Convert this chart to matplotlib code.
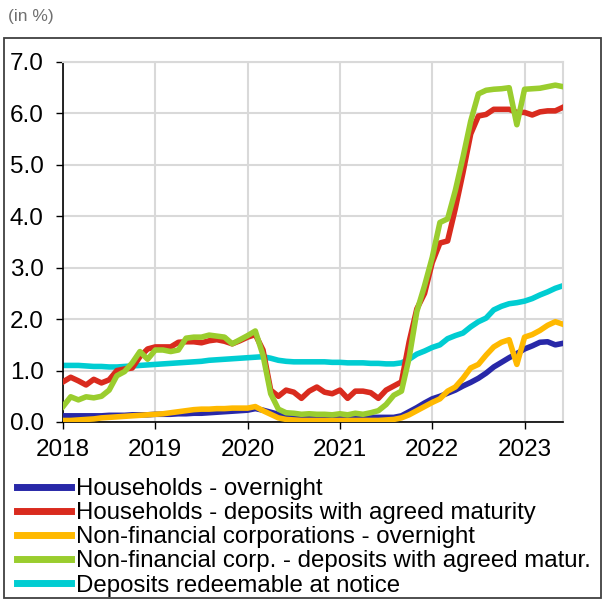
import matplotlib
matplotlib.use("Agg")
import matplotlib.pyplot as plt
from matplotlib.patches import Rectangle
import numpy as np

plt.rcParams['font.family'] = ['Liberation Sans', 'DejaVu Sans']

# monthly observations, Jan 2018 - Jun 2023
hh_overnight = [0.12, 0.12, 0.12, 0.12, 0.12, 0.12, 0.13, 0.13, 0.13, 0.14, 0.14, 0.14,
                0.15, 0.15, 0.15, 0.16, 0.16, 0.17, 0.17, 0.18, 0.19, 0.20, 0.21, 0.22,
                0.23, 0.26, 0.23, 0.19, 0.15, 0.12, 0.10, 0.09, 0.09, 0.09, 0.09, 0.09,
                0.09, 0.09, 0.09, 0.09, 0.09, 0.09, 0.09, 0.09, 0.12, 0.20, 0.28, 0.37,
                0.45, 0.50, 0.56, 0.62, 0.70, 0.77, 0.85, 0.95, 1.07, 1.16, 1.25, 1.33,
                1.42, 1.48, 1.55, 1.56, 1.50, 1.53]
hh_agreed = [0.78, 0.87, 0.80, 0.72, 0.83, 0.76, 0.82, 1.00, 1.03, 1.05, 1.27, 1.42,
             1.46, 1.46, 1.46, 1.55, 1.56, 1.56, 1.54, 1.58, 1.60, 1.57, 1.52, 1.58,
             1.65, 1.70, 1.40, 0.62, 0.50, 0.62, 0.58, 0.46, 0.60, 0.68, 0.58, 0.55,
             0.62, 0.46, 0.60, 0.60, 0.57, 0.46, 0.62, 0.70, 0.78, 1.56, 2.20, 2.50,
             3.10, 3.48, 3.52, 4.15, 4.85, 5.60, 5.95, 5.98, 6.08, 6.08, 6.08, 6.02,
             6.02, 5.97, 6.03, 6.05, 6.05, 6.12]
nfc_overnight = [0.03, 0.03, 0.04, 0.05, 0.06, 0.08, 0.09, 0.10, 0.11, 0.12, 0.13, 0.14,
                 0.15, 0.16, 0.18, 0.20, 0.22, 0.24, 0.25, 0.25, 0.26, 0.26, 0.27, 0.27,
                 0.27, 0.30, 0.22, 0.15, 0.08, 0.05, 0.04, 0.03, 0.03, 0.03, 0.03, 0.03,
                 0.03, 0.03, 0.03, 0.03, 0.03, 0.03, 0.04, 0.05, 0.08, 0.14, 0.22, 0.30,
                 0.38, 0.45, 0.60, 0.68, 0.85, 1.05, 1.12, 1.30, 1.46, 1.55, 1.60, 1.12,
                 1.65, 1.70, 1.78, 1.88, 1.95, 1.90]
nfc_agreed = [0.30, 0.49, 0.43, 0.49, 0.47, 0.50, 0.62, 0.90, 0.98, 1.15, 1.37, 1.22,
              1.40, 1.40, 1.37, 1.40, 1.63, 1.65, 1.65, 1.69, 1.67, 1.65, 1.52, 1.60,
              1.68, 1.77, 1.30, 0.55, 0.25, 0.18, 0.17, 0.15, 0.16, 0.15, 0.15, 0.14,
              0.16, 0.14, 0.17, 0.15, 0.18, 0.22, 0.34, 0.52, 0.60, 1.25, 2.15, 2.65,
              3.20, 3.88, 3.95, 4.50, 5.15, 5.85, 6.38, 6.45, 6.47, 6.48, 6.50, 5.78,
              6.47, 6.48, 6.49, 6.52, 6.55, 6.52]
notice = [1.10, 1.10, 1.10, 1.09, 1.08, 1.08, 1.07, 1.07, 1.08, 1.09, 1.10, 1.11,
          1.12, 1.13, 1.14, 1.15, 1.16, 1.17, 1.18, 1.20, 1.21, 1.22, 1.23, 1.24,
          1.25, 1.26, 1.27, 1.24, 1.20, 1.18, 1.17, 1.17, 1.17, 1.17, 1.17, 1.16,
          1.16, 1.15, 1.15, 1.15, 1.14, 1.14, 1.13, 1.13, 1.15, 1.22, 1.32, 1.38,
          1.45, 1.50, 1.62, 1.68, 1.73, 1.85, 1.95, 2.02, 2.18, 2.25, 2.30, 2.32,
          2.35, 2.40, 2.47, 2.53, 2.60, 2.65]

labels = ["Households - overnight",
          "Households - deposits with agreed maturity",
          "Non-financial corporations - overnight",
          "Non-financial corp. - deposits with agreed matur.",
          "Deposits redeemable at notice"]
colors = ["#2828a8", "#d92b1e", "#ffb900", "#9acd2e", "#00cdd2"]
zorders = [3, 4, 5, 6, 2]
years = [2018, 2019, 2020, 2021, 2022, 2023]

x = 2018 + np.arange(len(notice)) / 12.0

fig = plt.figure(figsize=(6.03, 6.01), dpi=100)
ax = fig.add_axes([63/603, 179/601, 500/603, 360/601])

series = [hh_overnight, hh_agreed, nfc_overnight, nfc_agreed, notice]
for s, lab, c, z in zip(series, labels, colors, zorders):
    ax.plot(x, s, color=c, lw=4, label=lab, zorder=z, solid_joinstyle='round')

ax.set_xlim(2018, x[-1])
ax.set_ylim(0, 7)
ax.set_yticks(np.arange(0, 7.5, 1.0))
ax.set_yticklabels(["%.1f" % v for v in np.arange(0, 7.5, 1.0)])
ax.set_xticks(years)
ax.set_xticklabels([str(y) for y in years])
ax.tick_params(labelsize=17.5, length=5, width=1, colors='black')
ax.tick_params(axis='y', pad=9)
ax.tick_params(axis='x', pad=7)
ax.grid(True, color='#d9d9d9', lw=1.5, zorder=0)
ax.set_axisbelow(True)
for side in ['top', 'right']:
    ax.spines[side].set_color('#d9d9d9')
    ax.spines[side].set_linewidth(1.5)
for side in ['left', 'bottom']:
    ax.spines[side].set_color('black')
    ax.spines[side].set_linewidth(1.2)

leg = fig.legend(loc='upper left', bbox_to_anchor=(17/603, 1 - 478/601),
                 frameon=False, fontsize=17.3, handlelength=2.25,
                 handletextpad=0.22, labelspacing=0.09, borderpad=0, borderaxespad=0)
for line in leg.get_lines():
    line.set_linewidth(5)

# outer box round chart and legend
fig.patches.append(Rectangle((4/603, 3/601), 597/603, 560/601, transform=fig.transFigure,
                             fill=False, edgecolor='#404040', lw=1.3))
fig.text(8/603, 1 - 17/601, "(in %)", fontsize=12.5, color='#707070', va='center')

fig.savefig("out.png", dpi=100)
